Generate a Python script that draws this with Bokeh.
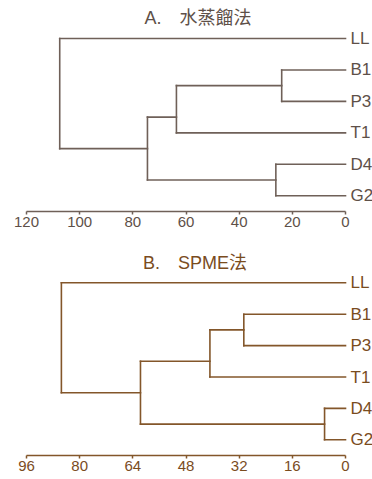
from bokeh.plotting import figure
from bokeh.layouts import column
from bokeh.models import Range1d, FixedTicker, ColumnDataSource
from bokeh.core.properties import value
from bokeh.embed import file_html
from bokeh.resources import INLINE

# Leaves (top to bottom) and their vertical positions
leaves = ["LL", "B1", "P3", "T1", "D4", "G2"]
leaf_pos = [5, 4, 3, 2, 1, 0]

# Cluster merges: children, new node name, node vertical position
merge_children = [("B1", "P3"), ("D4", "G2"), ("BP", "T1"), ("BPT", "DG"), ("LL", "BPTDG")]
merge_names = ["BP", "DG", "BPT", "BPTDG", "ROOT"]
merge_pos = [3.5, 0.5, 2.5, 1.5, 3.25]

# Linkage distances
heights_a = [24.0, 26.2, 63.6, 74.5, 107.5]   # A. 水蒸餾法
heights_b = [30.6, 6.3, 40.8, 61.7, 85.5]     # B. SPME法

ticks_a = [120, 100, 80, 60, 40, 20, 0]
ticks_b = [96, 80, 64, 48, 32, 16, 0]

title_a = "A.\u3000水蒸餾法"
title_b = "B.\u3000SPME法"

FONT = "'Liberation Sans', 'Noto Sans CJK TC'"


def segments(heights):
    x = {n: 0.0 for n in leaves}
    y = dict(zip(leaves, leaf_pos))
    x0, y0, x1, y1 = [], [], [], []
    for (a, b), name, h, ny in zip(merge_children, merge_names, heights, merge_pos):
        for c in (a, b):
            x0.append(x[c]); y0.append(y[c]); x1.append(h); y1.append(y[c])
        x0.append(h); y0.append(y[a]); x1.append(h); y1.append(y[b])
        x[name] = h
        y[name] = ny
    return ColumnDataSource(dict(x0=x0, y0=y0, x1=x1, y1=y1))


def make(heights, ticks, color, tcolor, title, title_px, title_y, h, frame_h, leaf_px):
    xmax = max(ticks)
    axis_px = 319.0
    right_px = 27.0
    x_end = -right_px * xmax / axis_px
    y_end = -0.5 + frame_h / leaf_px
    p = figure(width=372, height=h, x_range=Range1d(xmax, x_end),
               y_range=Range1d(-0.5, y_end),
               output_backend="svg", toolbar_location=None, y_axis_location=None,
               min_border_left=26, min_border_right=0, min_border_top=0,
               min_border_bottom=h - frame_h)
    p.grid.visible = False
    p.outline_line_color = None
    ax = p.xaxis[0]
    ax.bounds = (0, xmax)
    ax.ticker = FixedTicker(ticks=ticks)
    ax.minor_tick_line_color = None
    ax.major_tick_in = 0
    ax.major_tick_out = 3
    ax.major_label_standoff = 2
    ax.axis_line_color = color
    ax.axis_line_width = 1.6
    ax.major_tick_line_color = color
    ax.major_tick_line_width = 1.5
    ax.major_label_text_color = tcolor
    ax.major_label_text_font = FONT
    ax.major_label_text_font_size = "15px"

    p.segment("x0", "y0", "x1", "y1", source=segments(heights), line_color=color,
              line_width=1.6, line_cap="square")
    p.text(x=[0] * len(leaves), y=leaf_pos, text=leaves, x_offset=5,
           text_baseline="middle", text_align="left", text_color=tcolor,
           text_font=value(FONT), text_font_size="17px")
    tx = xmax - (xmax / axis_px) * title_px
    p.text(x=[tx], y=[title_y], text=[title], text_align="center",
           text_baseline="middle", text_color=tcolor,
           text_font=value(FONT), text_font_size="18px")
    return p


p1 = make(heights_a, ticks_a, "#6f6058", "#5e5048", title_a, 171.5, 5.66, 240, 211, 31.46)
p2 = make(heights_b, ticks_b, "#83562a", "#7a4c1e", title_b, 168.5, 5.64, 239, 215, 31.4)

layout = column(p1, p2, spacing=0)
open("out.html", "w").write(file_html(layout, INLINE))
